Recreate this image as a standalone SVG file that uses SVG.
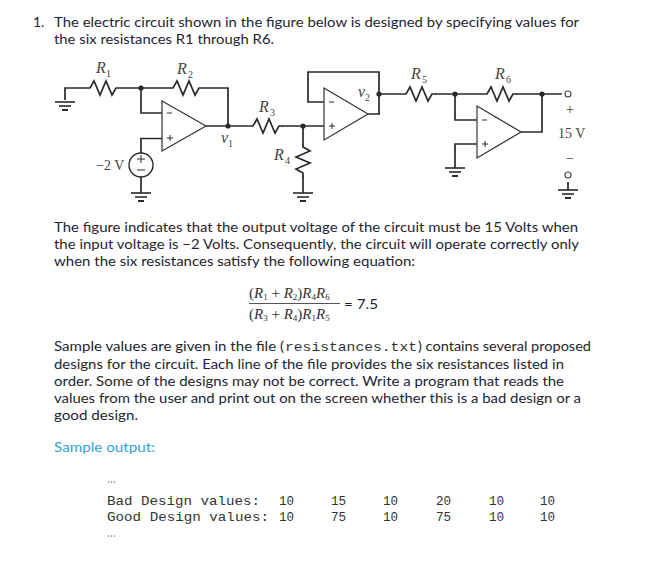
<svg xmlns="http://www.w3.org/2000/svg" width="657" height="572" viewBox="0 0 657 572">
<defs>
<g id="gnd"><path d="M-10 0H10" stroke-width="1.6"/><path d="M-6 4H6" stroke-width="1.6"/><path d="M-3 8H3" stroke-width="2"/></g>
<path id="rh" d="M0 0H3L7 -7L13 7L19 -7L25 7L29 0H33" fill="none"/>
</defs>
<style>
.t{font-family:Lato,"Noto Sans",sans-serif;font-size:14px;fill:#1f2430}
.m{font-family:"Liberation Mono",monospace;font-size:12.6px;fill:#333}
.c{font-family:"Liberation Serif",serif;font-size:16px;fill:#444}
.i{font-style:italic}
.s{font-family:"Liberation Serif",serif;font-size:10px;fill:#444}
.w{fill:none;stroke:#2a2a2a;stroke-width:1.7}
.o{fill:#fff;stroke:#333;stroke-width:1.2}
.e{font-family:"Liberation Serif",serif;font-size:15px;fill:#333}
.g{stroke:#2a2a2a;fill:none}
.d{fill:#2a2a2a}
</style>
<rect width="657" height="572" fill="#fff"/>
<g id="text-top">
<text class="t" x="33" y="26.600">1.</text>
<text class="t" x="54" y="26.600" textLength="525" lengthAdjust="spacingAndGlyphs">The electric circuit shown in the figure below is designed by specifying values for</text>
<text class="t" x="54" y="43.500" textLength="220" lengthAdjust="spacingAndGlyphs">the six resistances R1 through R6.</text>
</g>
<g id="connectors">
<path class="w" d="M65 100V88H87M120 88H170M202 88H228V126M141 88V113H162M141 153V138.5H162M141 177V193M206 126H250M282 126H324M303 126V145M303 176V193"/>
<path class="w" d="M324 102H308V72H379V114M368 114H380M379 94H403M435 94H484M516 94H562M455 94V120H477M477 144H455V168M521 132H542V94M568 182V190"/>
</g>
<g id="R1"><use href="#rh" class="w" x="87" y="88"/><text class="c i" x="96" y="73">R</text><text class="s" x="106" y="77">1</text></g>
<g id="R2"><use href="#rh" class="w" x="170" y="88"/><text class="c i" x="177" y="74">R</text><text class="s" x="188" y="78">2</text></g>
<g id="R3"><use href="#rh" class="w" x="250" y="126"/><text class="c i" x="259" y="112">R</text><text class="s" x="270" y="116">3</text></g>
<g id="R4"><use href="#rh" class="w" transform="translate(303 144) rotate(90)"/><text class="c i" x="274" y="160">R</text><text class="s" x="285" y="164">4</text></g>
<g id="R5"><use href="#rh" class="w" x="403" y="94"/><text class="c i" x="411" y="79">R</text><text class="s" x="422" y="83">5</text></g>
<g id="R6"><use href="#rh" class="w" x="484" y="94"/><text class="c i" x="495" y="79">R</text><text class="s" x="506" y="83">6</text></g>
<g id="opamp1"><path class="o" d="M162 101V151L206 126Z"/><path class="g" stroke-width="1" d="M167 113H172M167 138H173M170 135V141"/></g>
<g id="opamp2"><path class="o" d="M324 88V140L368 114Z"/><path class="g" stroke-width="1" d="M329 102H334M329 126H335M332 123V129"/></g>
<g id="opamp3"><path class="o" d="M477 106V158L521 132Z"/><path class="g" stroke-width="1" d="M482 120H487M482 144H488M485 141V147"/></g>
<g id="source"><circle cx="141" cy="165" r="12" fill="#fff" stroke="#2a2a2a" stroke-width="1.4"/><path class="g" stroke-width="1" d="M137 159H145M141 155V163M137 170H145"/><text class="c" x="96" y="170" style="font-size:14px">−2 V</text></g>
<g id="grounds" class="g">
<use href="#gnd" x="65" y="102"/><use href="#gnd" x="141" y="193"/><use href="#gnd" x="303" y="193"/><use href="#gnd" x="455" y="168"/><use href="#gnd" x="568" y="190"/>
</g>
<g id="nodes" class="d">
<circle cx="141" cy="88" r="2.6"/><circle cx="228" cy="126" r="2.6"/><circle cx="303" cy="126" r="2.6"/><circle cx="379" cy="94" r="2.6"/><circle cx="455" cy="94" r="2.6"/><circle cx="542" cy="94" r="2.6"/>
</g>
<g id="terminals"><circle cx="568" cy="94" r="3" fill="#fff" stroke="#444" stroke-width="1.1"/><circle cx="568" cy="175" r="3" fill="#fff" stroke="#444" stroke-width="1.1"/></g>
<g id="labels">
<text class="c i" x="221" y="143">v</text><text class="s" x="228" y="147">1</text>
<text class="c i" x="358" y="97">v</text><text class="s" x="365" y="101">2</text>
<text class="c" x="566" y="114" style="font-size:14px">+</text>
<text class="c" x="558" y="138" style="font-size:14px">15 V</text>
<text class="c" x="566" y="163" style="font-size:14px">−</text>
</g>
<g id="text-mid">
<text class="t" x="54" y="231.600" textLength="524" lengthAdjust="spacingAndGlyphs">The figure indicates that the output voltage of the circuit must be 15 Volts when</text>
<text class="t" x="54" y="248.500" textLength="525" lengthAdjust="spacingAndGlyphs">the input voltage is −2 Volts. Consequently, the circuit will operate correctly only</text>
<text class="t" x="54" y="265.500" textLength="361" lengthAdjust="spacingAndGlyphs">when the six resistances satisfy the following equation:</text>
</g>
<g id="equation">
<text class="e" x="249" y="298">(<tspan font-style="italic">R</tspan><tspan font-size="9" dy="2">1</tspan><tspan dy="-2"> + </tspan><tspan font-style="italic">R</tspan><tspan font-size="9" dy="2">2</tspan><tspan dy="-2">)</tspan><tspan font-style="italic">R</tspan><tspan font-size="9" dy="2">4</tspan><tspan font-style="italic" dy="-2">R</tspan><tspan font-size="9" dy="2">6</tspan></text>
<path d="M249 303.500H340" stroke="#555" stroke-width="1.2"/>
<text class="e" x="249" y="319">(<tspan font-style="italic">R</tspan><tspan font-size="9" dy="2">3</tspan><tspan dy="-2"> + </tspan><tspan font-style="italic">R</tspan><tspan font-size="9" dy="2">4</tspan><tspan dy="-2">)</tspan><tspan font-style="italic">R</tspan><tspan font-size="9" dy="2">1</tspan><tspan font-style="italic" dy="-2">R</tspan><tspan font-size="9" dy="2">5</tspan></text>
<text class="t" x="344" y="309" textLength="34" lengthAdjust="spacingAndGlyphs">= 7.5</text>
</g>
<g id="text-low">
<text class="t" x="54" y="351" textLength="230" lengthAdjust="spacingAndGlyphs">Sample values are given in the file (</text>
<text class="m" x="285" y="351" textLength="132" lengthAdjust="spacingAndGlyphs">resistances.txt</text>
<text class="t" x="418" y="351" textLength="173" lengthAdjust="spacingAndGlyphs">) contains several proposed</text>
<text class="t" x="54" y="368.500" textLength="510" lengthAdjust="spacingAndGlyphs">designs for the circuit. Each line of the file provides the six resistances listed in</text>
<text class="t" x="54" y="385.500" textLength="510" lengthAdjust="spacingAndGlyphs">order. Some of the designs may not be correct. Write a program that reads the</text>
<text class="t" x="54" y="402.500" textLength="527" lengthAdjust="spacingAndGlyphs">values from the user and print out on the screen whether this is a bad design or a</text>
<text class="t" x="54" y="419.500" textLength="84" lengthAdjust="spacingAndGlyphs">good design.</text>
<text class="t" x="54" y="452" style="fill:#33a3dc" textLength="101" lengthAdjust="spacingAndGlyphs">Sample output:</text>
</g>
<g id="output">
<text class="m" x="107" y="483" textLength="9" lengthAdjust="spacingAndGlyphs">...</text>
<text class="m" x="107" y="505" textLength="153" lengthAdjust="spacingAndGlyphs">Bad Design values:</text>
<text class="m" x="107" y="521" textLength="162" lengthAdjust="spacingAndGlyphs">Good Design values:</text>
<text class="m" x="279" y="505">10</text><text class="m" x="331" y="505">15</text><text class="m" x="383" y="505">10</text><text class="m" x="436" y="505">20</text><text class="m" x="489" y="505">10</text><text class="m" x="540" y="505">10</text>
<text class="m" x="279" y="521">10</text><text class="m" x="331" y="521">75</text><text class="m" x="383" y="521">10</text><text class="m" x="436" y="521">75</text><text class="m" x="489" y="521">10</text><text class="m" x="540" y="521">10</text>
<text class="m" x="107" y="537" textLength="9" lengthAdjust="spacingAndGlyphs">...</text>
</g>
</svg>
